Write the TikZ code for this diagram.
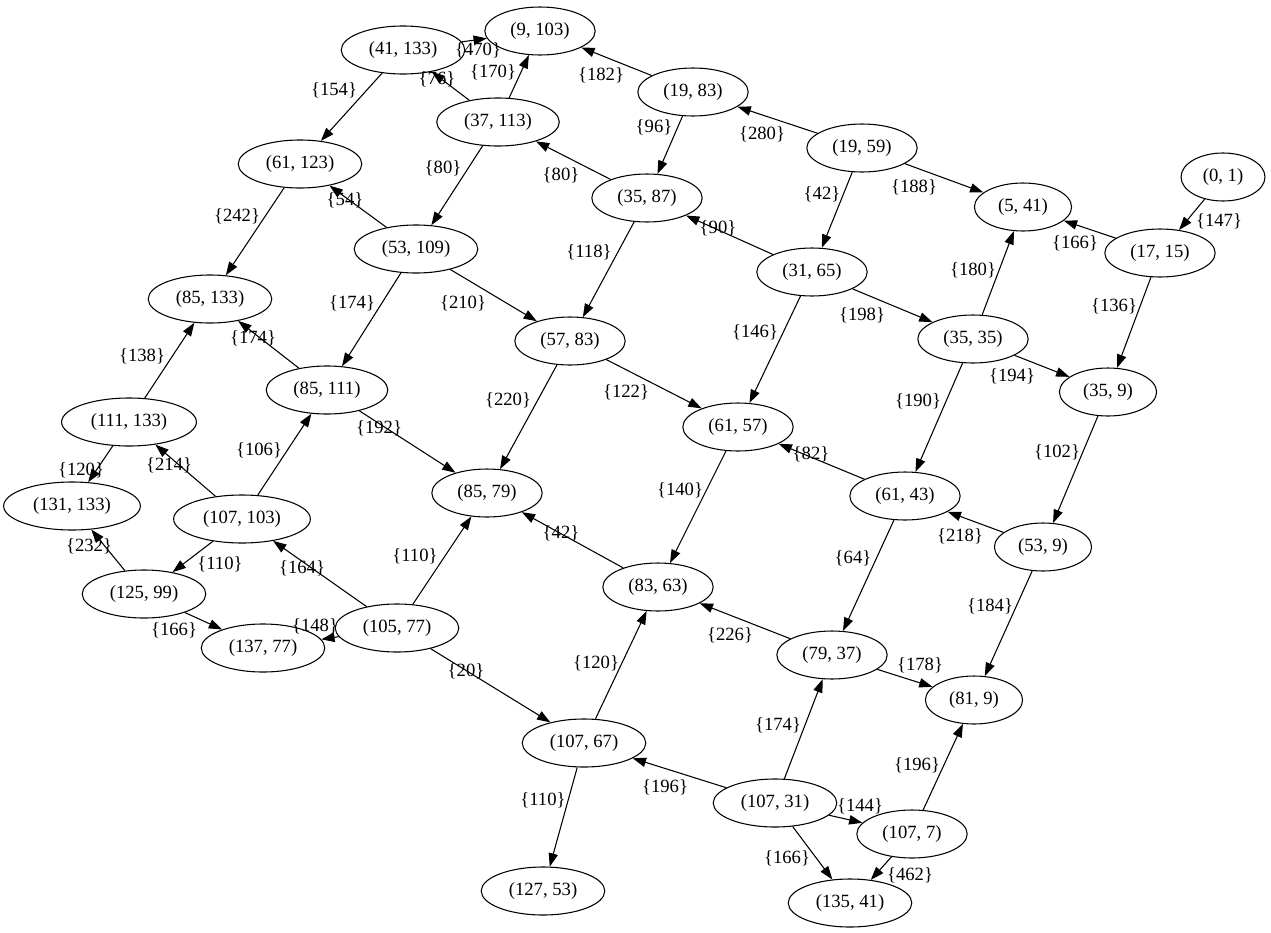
\documentclass[tikz,border=0pt]{standalone}
\usepackage{fontspec}
\setmainfont{Liberation Serif}
\usetikzlibrary{arrows.meta,shapes.geometric}

\begin{document}
\begin{tikzpicture}[x=0.75pt,y=-0.75pt,
    pair/.style={draw,ellipse,line width=0.8pt,inner xsep=7.1pt,inner ysep=3pt,minimum height=36pt,font=\fontsize{14pt}{16pt}\selectfont},
    arr/.style={line width=0.8pt,-{Triangle[length=10pt,width=7pt]}},
    wt/.style={inner sep=0pt,font=\fontsize{14pt}{16pt}\selectfont}]
               \useasboundingbox (0,0) rectangle (1271,932);
               % top rows
               \node [pair] (a9x103) at (540,31) {(9, 103)};
               \node [pair] (a41x133) at (403,50) {(41, 133)};
               \node [pair] (a37x113) at (498,122) {(37, 113)};
               \node [pair] (a19x83) at (693,92) {(19, 83)};
               \node [pair] (a19x59) at (862,148) {(19, 59)};
               \node [pair] (a35x87) at (647,198) {(35, 87)};
               \node [pair] (a31x65) at (812,272) {(31, 65)};
               \node [pair] (a5x41) at (1023,207) {(5, 41)};
               \node [pair] (a0x1) at (1223,177) {(0, 1)};
               \node [pair] (a17x15) at (1160,253) {(17, 15)};
               \node [pair] (a35x35) at (973,339) {(35, 35)};
               \node [pair] (a35x9) at (1108,392) {(35, 9)};
               % left side
               \node [pair] (a61x123) at (300,164) {(61, 123)};
               \node [pair] (a85x133) at (210,299) {(85, 133)};
               \node [pair] (a111x133) at (129,422) {(111, 133)};
               \node [pair] (a85x111) at (327,390) {(85, 111)};
               \node [pair] (a53x109) at (416,249) {(53, 109)};
               \node [pair] (a131x133) at (72,506) {(131, 133)};
               \node [pair] (a107x103) at (242,519) {(107, 103)};
               \node [pair] (a125x99) at (144,594) {(125, 99)};
               \node [pair] (a137x77) at (263,648) {(137, 77)};
               \node [pair] (a105x77) at (397,628) {(105, 77)};
               % middle
               \node [pair] (a57x83) at (570,341) {(57, 83)};
               \node [pair] (a85x79) at (487,493) {(85, 79)};
               \node [pair] (a61x57) at (738,427) {(61, 57)};
               \node [pair] (a61x43) at (905,496) {(61, 43)};
               \node [pair] (a83x63) at (658,587) {(83, 63)};
               \node [pair] (a107x67) at (584,743) {(107, 67)};
               \node [pair] (a53x9) at (1043,547) {(53, 9)};
               \node [pair] (a79x37) at (832,655) {(79, 37)};
               \node [pair] (a81x9) at (974,700) {(81, 9)};
               % bottom
               \node [pair] (a107x31) at (775,803) {(107, 31)};
               \node [pair] (a107x7) at (912,834) {(107, 7)};
               \node [pair] (a127x53) at (543,891) {(127, 53)};
               \node [pair] (a135x41) at (850,903) {(135, 41)};
               % edges with weights
               \draw [arr] (a41x133) -- (a9x103) node [wt] at (478,50) {\{470\}};
               \draw [arr] (a41x133) -- (a61x123) node [wt] at (334,90) {\{154\}};
               \draw [arr] (a37x113) -- (a9x103) node [wt] at (493,72) {\{170\}};
               \draw [arr] (a37x113) -- (a41x133) node [wt] at (437,79) {\{76\}};
               \draw [arr] (a37x113) -- (a53x109) node [wt] at (443,168) {\{80\}};
               \draw [arr] (a19x83) -- (a9x103) node [wt] at (601,75) {\{182\}};
               \draw [arr] (a19x83) -- (a35x87) node [wt] at (654,127) {\{96\}};
               \draw [arr] (a19x59) -- (a19x83) node [wt] at (762,134) {\{280\}};
               \draw [arr] (a19x59) -- (a5x41) node [wt] at (914,187) {\{188\}};
               \draw [arr] (a19x59) -- (a31x65) node [wt] at (822,194) {\{42\}};
               \draw [arr] (a35x87) -- (a37x113) node [wt] at (561,175) {\{80\}};
               \draw [arr] (a35x87) -- (a57x83) node [wt] at (589,252) {\{118\}};
               \draw [arr] (a31x65) -- (a35x87) node [wt] at (718,228) {\{90\}};
               \draw [arr] (a31x65) -- (a61x57) node [wt] at (755,332) {\{146\}};
               \draw [arr] (a31x65) -- (a35x35) node [wt] at (862,315) {\{198\}};
               \draw [arr] (a0x1) -- (a17x15) node [wt] at (1219,221) {\{147\}};
               \draw [arr] (a17x15) -- (a5x41) node [wt] at (1075,243) {\{166\}};
               \draw [arr] (a17x15) -- (a35x9) node [wt] at (1114,306) {\{136\}};
               \draw [arr] (a35x35) -- (a5x41) node [wt] at (973,270) {\{180\}};
               \draw [arr] (a35x35) -- (a35x9) node [wt] at (1012,376) {\{194\}};
               \draw [arr] (a35x35) -- (a61x43) node [wt] at (918,401) {\{190\}};
               \draw [arr] (a61x123) -- (a85x133) node [wt] at (237,216) {\{242\}};
               \draw [arr] (a53x109) -- (a61x123) node [wt] at (345,200) {\{54\}};
               \draw [arr] (a53x109) -- (a85x111) node [wt] at (352,303) {\{174\}};
               \draw [arr] (a53x109) -- (a57x83) node [wt] at (463,303) {\{210\}};
               \draw [arr] (a57x83) -- (a85x79) node [wt] at (508,400) {\{220\}};
               \draw [arr] (a57x83) -- (a61x57) node [wt] at (626,392) {\{122\}};
               \draw [arr] (a85x111) -- (a85x133) node [wt] at (253,338) {\{174\}};
               \draw [arr] (a85x111) -- (a85x79) node [wt] at (379,428) {\{192\}};
               \draw [arr] (a111x133) -- (a85x133) node [wt] at (142,356) {\{138\}};
               \draw [arr] (a111x133) -- (a131x133) node [wt] at (81,470) {\{120\}};
               \draw [arr] (a107x103) -- (a111x133) node [wt] at (169,465) {\{214\}};
               \draw [arr] (a107x103) -- (a85x111) node [wt] at (259,450) {\{106\}};
               \draw [arr] (a107x103) -- (a125x99) node [wt] at (220,564) {\{110\}};
               \draw [arr] (a125x99) -- (a131x133) node [wt] at (89,546) {\{232\}};
               \draw [arr] (a125x99) -- (a137x77) node [wt] at (174,630) {\{166\}};
               \draw [arr] (a105x77) -- (a137x77) node [wt] at (315,626) {\{148\}};
               \draw [arr] (a105x77) -- (a107x103) node [wt] at (302,568) {\{164\}};
               \draw [arr] (a105x77) -- (a85x79) node [wt] at (415,556) {\{110\}};
               \draw [arr] (a105x77) -- (a107x67) node [wt] at (466,671) {\{20\}};
               \draw [arr] (a61x57) -- (a83x63) node [wt] at (680,490) {\{140\}};
               \draw [arr] (a61x43) -- (a61x57) node [wt] at (811,454) {\{82\}};
               \draw [arr] (a61x43) -- (a79x37) node [wt] at (853,558) {\{64\}};
               \draw [arr] (a35x9) -- (a53x9) node [wt] at (1057,452) {\{102\}};
               \draw [arr] (a53x9) -- (a61x43) node [wt] at (960,536) {\{218\}};
               \draw [arr] (a53x9) -- (a81x9) node [wt] at (990,606) {\{184\}};
               \draw [arr] (a83x63) -- (a85x79) node [wt] at (561,533) {\{42\}};
               \draw [arr] (a107x67) -- (a83x63) node [wt] at (596,663) {\{120\}};
               \draw [arr] (a79x37) -- (a83x63) node [wt] at (730,635) {\{226\}};
               \draw [arr] (a79x37) -- (a81x9) node [wt] at (920,665) {\{178\}};
               \draw [arr] (a107x67) -- (a127x53) node [wt] at (543,800) {\{110\}};
               \draw [arr] (a107x31) -- (a107x67) node [wt] at (665,787) {\{196\}};
               \draw [arr] (a107x31) -- (a79x37) node [wt] at (778,725) {\{174\}};
               \draw [arr] (a107x31) -- (a107x7) node [wt] at (860,806) {\{144\}};
               \draw [arr] (a107x31) -- (a135x41) node [wt] at (787,858) {\{166\}};
               \draw [arr] (a107x7) -- (a81x9) node [wt] at (917,765) {\{196\}};
               \draw [arr] (a107x7) -- (a135x41) node [wt] at (910,875) {\{462\}};
\end{tikzpicture}
\end{document}
